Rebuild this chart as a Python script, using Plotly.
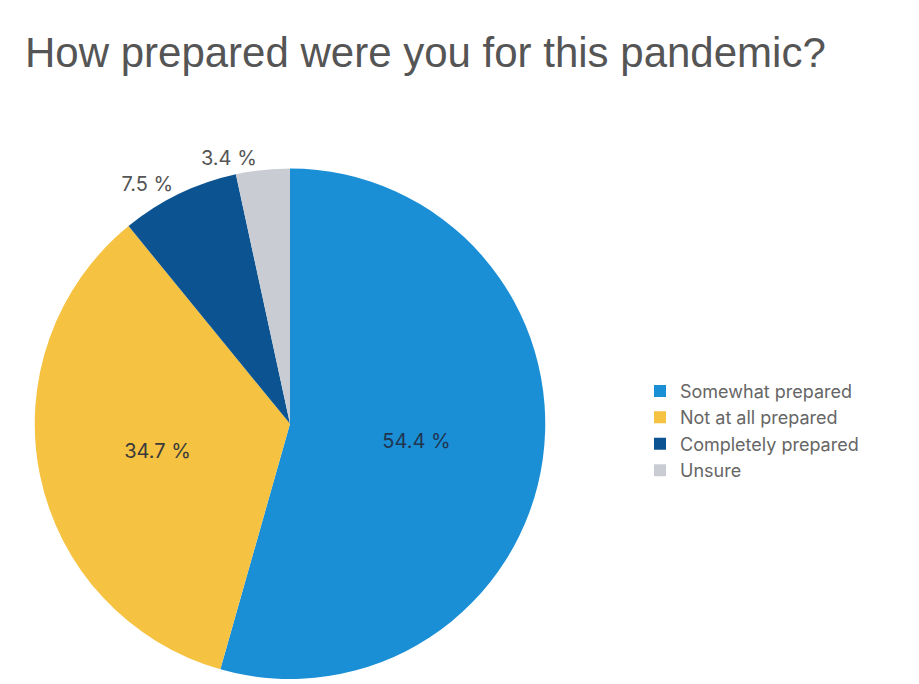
import plotly.graph_objects as go

labels = ["Somewhat prepared", "Not at all prepared", "Completely prepared", "Unsure"]
values = [54.4, 34.7, 7.5, 3.4]
colors = ["#1b8fd6", "#f5c242", "#0b5491", "#c9cdd3"]
text_positions = ["inside", "inside", "outside", "outside"]
text_colors = ["#1f3550", "#3a3a3a", "#555555", "#555555"]
title_text = "How prepared were you for this pandemic?"

W, H = 919, 684
cx, cy, r = 290, 425, 256

fig = go.Figure(go.Pie(
    labels=labels,
    values=values,
    marker=dict(colors=colors, line=dict(width=0)),
    sort=False,
    direction="clockwise",
    rotation=0,
    textposition=text_positions,
    texttemplate="%{value:.1f} %",
    textfont=dict(color=text_colors, size=20, family="Inter"),
    insidetextorientation="horizontal",
    domain=dict(x=[(cx - r) / W, (cx + r) / W], y=[(H - cy - r) / H, (H - cy + r) / H]),
    hoverinfo="label+percent",
))

fig.update_layout(
    width=W, height=H,
    margin=dict(l=0, r=0, t=0, b=0),
    paper_bgcolor="white",
    plot_bgcolor="white",
    title=dict(text=title_text, x=25 / W, xanchor="left", y=1 - 52 / H, yanchor="middle",
               font=dict(family="Liberation Sans", size=42, color="#555555")),
    legend=dict(x=640 / W, y=1 - 432 / H, xanchor="left", yanchor="middle",
                font=dict(family="Inter", size=18, color="#666666"),
                itemwidth=30, tracegroupgap=0),
    showlegend=True,
)

fig.write_html("out.html")
